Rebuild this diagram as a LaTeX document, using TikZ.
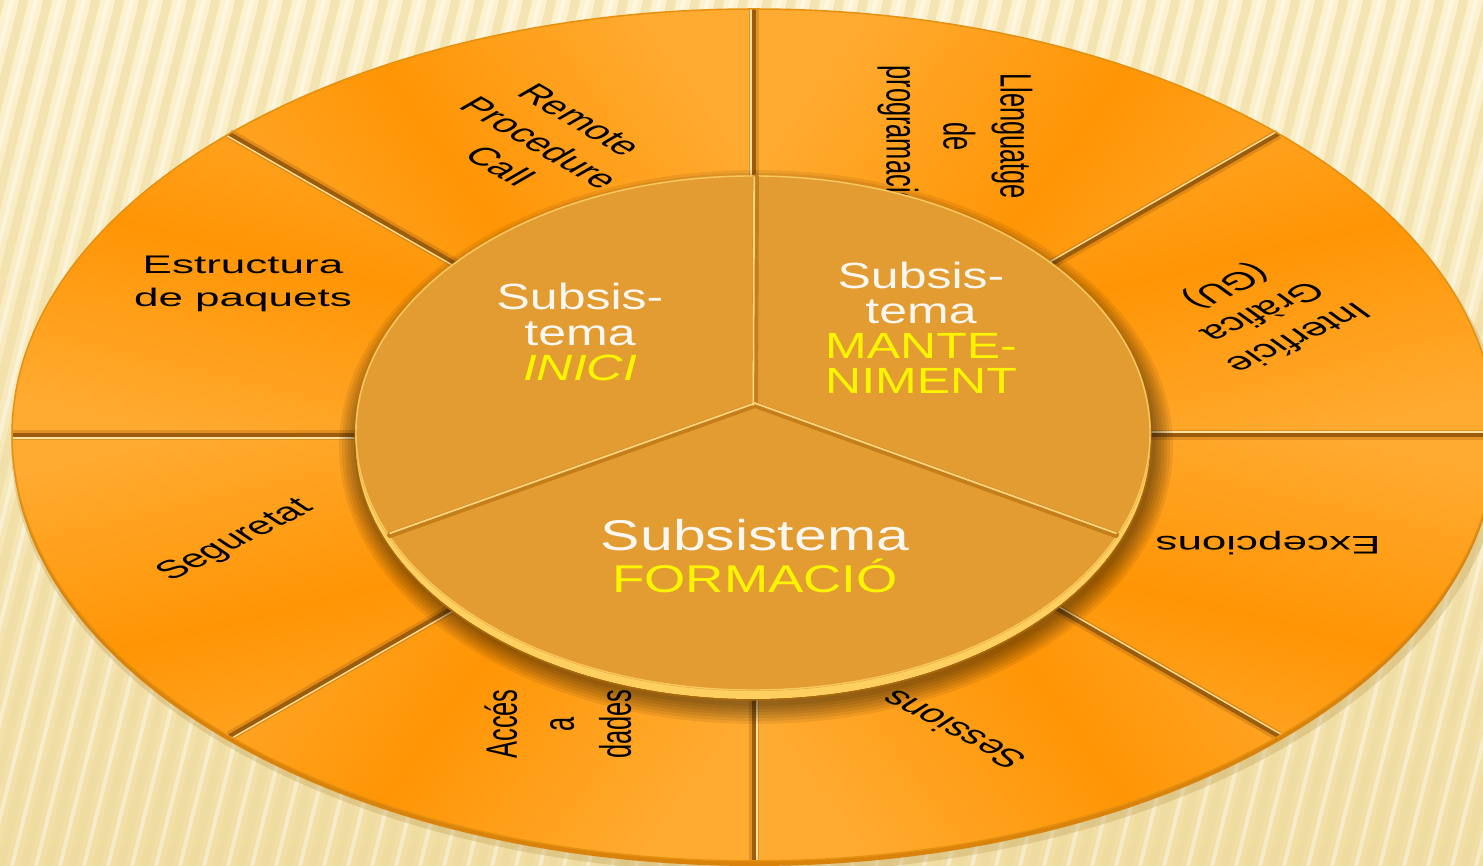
\documentclass[tikz,border=0pt]{standalone}
\usepackage{fontspec}
\setmainfont{Liberation Sans}
\usetikzlibrary{calc}
\definecolor{bgtop}{HTML}{FCF2CF}
\definecolor{bgbot}{HTML}{F1DEA4}
\definecolor{bgstripe}{HTML}{EEDA9E}
\definecolor{ringshadow}{HTML}{B8964A}
\definecolor{ringlight}{HTML}{FFAA30}
\definecolor{ringdark}{HTML}{FF9505}
\definecolor{ringrim}{HTML}{D9830C}
\definecolor{ringedge}{HTML}{E5900F}
\definecolor{groove}{HTML}{9C5C0E}
\definecolor{hilite}{HTML}{FFE2A0}
\definecolor{disk}{HTML}{E29C32}
\definecolor{diskrim}{HTML}{FFD060}
\definecolor{diskrimline}{HTML}{A8680F}
\definecolor{diskedge}{HTML}{F6C85E}
\definecolor{ridge}{HTML}{C47F1A}
\definecolor{ridgelight}{HTML}{FBD47C}
\definecolor{txtwhite}{HTML}{FAF7F0}
\definecolor{txtyellow}{HTML}{FFF500}
\newcommand\ringlabel[5]{\begin{scope}[shift={(#2,#3)}]\node[outertxt,rotate=#4] (#1) at (0,0) {#5};\end{scope}}
\newcommand\disklabel[5]{\begin{scope}[shift={(#2,#3)},yscale=0.73]\node[innertxt,font=#4] (#1) at (0,0) {#5};\end{scope}}
\begin{document}
\begin{tikzpicture}[x=1pt,y=1pt,
 outertxt/.style={transform shape,align=center,text=black,inner sep=0pt,font=\fontsize{44}{57}\selectfont},
 innertxt/.style={transform shape,align=center,inner sep=0pt,text=txtwhite},
 groovewide/.style={draw=groove,line width=10pt,opacity=.3},
 groovecore/.style={draw=groove,line width=4pt},
 grooveedge/.style={draw=hilite,line width=1.3pt},
 ridgebody/.style={draw=ridge,line width=6pt,line cap=round},
 ridgeedge/.style={draw=ridgelight,line width=1.8pt,line cap=round}]
\useasboundingbox (0,0) rectangle (1483,866);
\begin{scope}
\clip (0,0) rectangle (1483,866);
% background
\shade[top color=bgtop,bottom color=bgbot] (0,0) rectangle (1483,866);
\foreach \i in {-14,...,66}{
  \draw[bgstripe,line width=9pt,opacity=.55] (\i*24,0) -- ++(76:900pt);
  \draw[white,line width=4pt,opacity=.4] (\i*24+12,0) -- ++(76:900pt);
}
% outer ring
\coordinate (O) at (754,431);
\fill[ringshadow,opacity=.3] (757,422) ellipse[x radius=746pt,y radius=429pt];
\fill[ringrim] (754,426) ellipse[x radius=742pt,y radius=426pt];
\foreach \a/\p in {0/13.5,45/54.4,90/125.6,135/166.5,180/193.5,225/234.4,270/305.6,315/346.5}{
  \shade[left color=ringlight,right color=ringlight,middle color=ringdark,shading angle=\p]
    (O) -- ++(\a:742pt and 426pt) arc[start angle=\a,delta angle=45,x radius=742pt,y radius=426pt] -- cycle;
}
\foreach \a in {0,45,...,315}{
  \draw[groovewide] (O) -- ++(\a:742pt and 426pt);
  \draw[groovecore] (O) -- ++(\a:742pt and 426pt);
  \draw[grooveedge] ([shift={(\a+90:3pt)}]O) -- ++(\a:742pt and 426pt);
}
\draw[ringedge,line width=1.5pt] (O) ellipse[x radius=742pt,y radius=426pt];
% outer labels
\begin{scope}[shift={(754,431)},yscale=0.578]
\ringlabel{rpc}{-214}{505}{-45}{Remote\\Procedure\\Call}
\ringlabel{lleng}{201}{517}{-90}{Llenguatge\\de\\programació}
\ringlabel{gui}{507}{214}{218.6}{Interfície\\Gràfica\\(GU)}
\ringlabel{exc}{514}{-187}{180}{Excepcions}
\ringlabel{ses}{199}{-510}{138}{Sessions}
\ringlabel{acc}{-196}{-500}{90}{Accés\\a\\dades}
\ringlabel{seg}{-518}{-183}{41}{Seguretat}
\ringlabel{est}{-511}{261}{0}{Estructura\\de paquets}
\end{scope}
% inner disk
\coordinate (D) at (753,433);
\foreach \k in {1,...,7}{
  \fill[black,opacity=.07] (756,419) ellipse[x radius={396pt+\k*3pt},y radius={256pt+\k*3pt}];
}
\fill[diskrim] (753,425) ellipse[x radius=398pt,y radius=258pt];
\draw[diskrimline,line width=1.5pt] (753,424) ellipse[x radius=398pt,y radius=258pt];
\fill[disk] (D) ellipse[x radius=398pt,y radius=258pt];
\draw[diskedge,line width=1.4pt] (D) ellipse[x radius=397pt,y radius=257pt];
% ridges
\coordinate (J) at (755,461);
\coordinate (RT) at (756,689);
\coordinate (RL) at (390,331);
\coordinate (RR) at (1116,331);
\draw[ridgebody] (J) -- (RT);
\draw[ridgebody] (J) -- (RL);
\draw[ridgebody] (J) -- (RR);
\draw[ridgeedge] ([xshift=-1.8pt]J) -- ([xshift=-1.8pt]RT);
\draw[ridgeedge] ([yshift=1.8pt]J) -- ([yshift=1.8pt]RL);
\draw[ridgeedge] ([yshift=1.8pt]J) -- ([yshift=1.8pt]RR);
% inner labels
\disklabel{inici}{580}{534}{\fontsize{50}{48}\selectfont}{Subsis-\\tema\\\textcolor{txtyellow}{\itshape INICI}}
\disklabel{mant}{921}{538}{\fontsize{50}{48}\selectfont}{Subsis-\\tema\\\textcolor{txtyellow}{MANTE-}\\\textcolor{txtyellow}{NIMENT}}
\disklabel{form}{755}{310}{\fontsize{56}{58}\selectfont}{{\fontsize{59}{58}\selectfont Subsistema}\\\textcolor{txtyellow}{\fontsize{53}{58}\selectfont FORMACIÓ}}
\end{scope}
\end{tikzpicture}
\end{document}
